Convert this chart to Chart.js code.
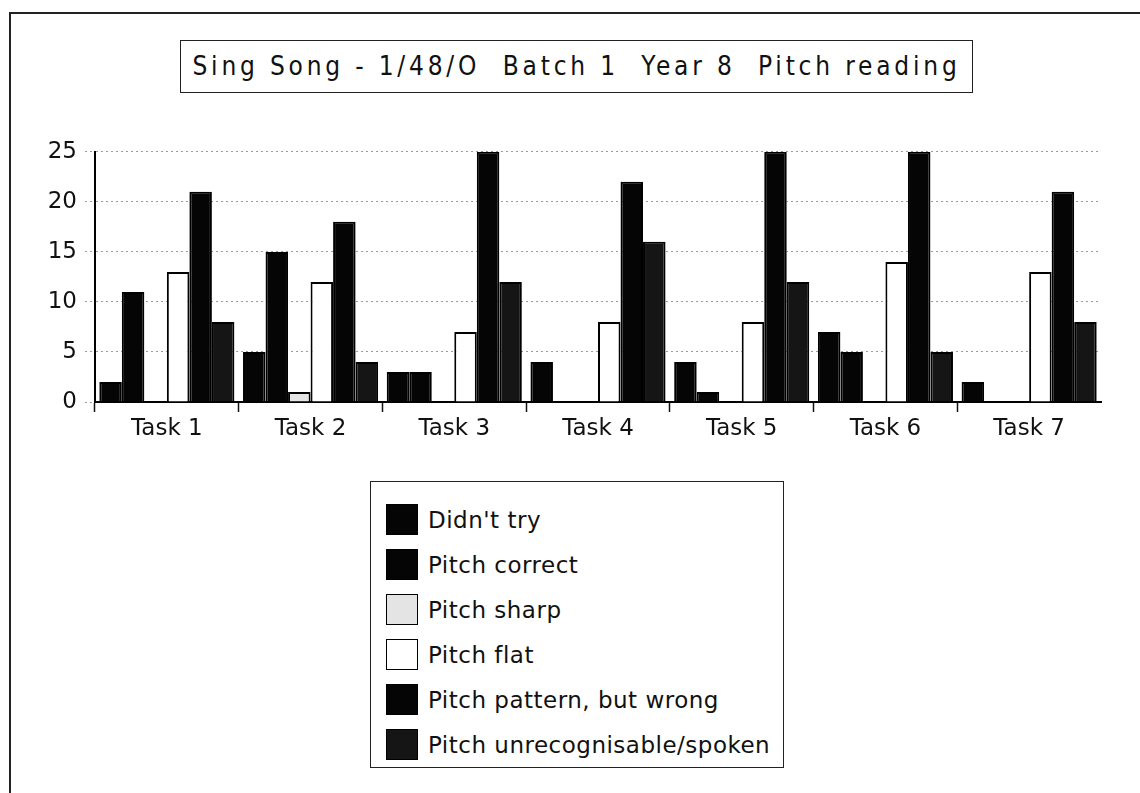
<!DOCTYPE html>
<html>
<head>
<meta charset="utf-8">
<script src="https://cdn.jsdelivr.net/npm/chart.js@4"></script>
<style>
body { margin: 0; background: #fff; }
#page { position: relative; width: 1140px; height: 793px; overflow: hidden; font-family: 'DejaVu Sans', sans-serif; color: #111; }
#frame { position: absolute; left: 9px; top: 12px; width: 1140px; height: 800px; border-left: 2px solid #222; border-top: 2px solid #222; }
#title { position: absolute; left: 180px; top: 40px; width: 793px; height: 53px; border: 1.5px solid #222; box-sizing: border-box;
  font-family: 'DejaVu Sans Condensed', 'Liberation Sans Narrow', 'DejaVu Sans', sans-serif; font-size: 26px; letter-spacing: 3.8px;
  line-height: 51px; text-align: center; white-space: pre; }
#chartBox { position: absolute; left: 0; top: 130px; width: 1140px; height: 320px; }
#legend { position: absolute; left: 370px; top: 481px; width: 414px; height: 287px; border: 1.5px solid #222; box-sizing: border-box; padding-top: 15px; }
.item { height: 45px; display: flex; align-items: center; font-size: 23px; letter-spacing: 0.5px; }
.sw { width: 30px; height: 29px; margin-left: 15px; margin-right: 10px; border: 1.5px solid #000; box-sizing: content-box; }
</style>
</head>
<body>
<div id="page">
  <div id="frame"></div>
  <div id="title">Sing Song - 1/48/O  Batch 1  Year 8  Pitch reading</div>
  <div id="chartBox"><canvas id="pitch-canvas" width="1140" height="320"></canvas></div>
  <div id="legend"></div>
</div>
<script>
// ========== Data
let taskLabels = ['Task 1', 'Task 2', 'Task 3', 'Task 4', 'Task 5', 'Task 6', 'Task 7'];
let yTicks = [0, 5, 10, 15, 20, 25];

let didntTry     = [2, 5, 3, 4, 4, 7, 2];
let pitchCorrect = [11, 15, 3, 0, 1, 5, 0];
let pitchSharp   = [0, 1, 0, 0, 0, 0, 0];
let pitchFlat    = [13, 12, 7, 8, 8, 14, 13];
let patternWrong = [21, 18, 25, 22, 25, 25, 21];
let unrecognised = [8, 4, 12, 16, 12, 5, 8];

// ========== Colors
let blackColor = '#050505';
let sharpColor = '#e4e4e4';
let flatColor = '#ffffff';
let unrecColor = '#151515';

let series = [
    { label: "Didn't try", data: didntTry, color: blackColor },
    { label: 'Pitch correct', data: pitchCorrect, color: blackColor },
    { label: 'Pitch sharp', data: pitchSharp, color: sharpColor },
    { label: 'Pitch flat', data: pitchFlat, color: flatColor },
    { label: 'Pitch pattern, but wrong', data: patternWrong, color: blackColor },
    { label: 'Pitch unrecognisable/spoken', data: unrecognised, color: unrecColor }
];

let tickFont = { family: "'DejaVu Sans', sans-serif", size: 23 };

var pitchCanvas = document.getElementById('pitch-canvas');
var pitchChart = new Chart(pitchCanvas, {
    type: 'bar',
    data: {
        labels: taskLabels,
        datasets: series.map(s => ({
            label: s.label,
            data: s.data,
            backgroundColor: s.color,
            borderColor: '#000',
            borderWidth: 2,
            barPercentage: 1,
            categoryPercentage: 0.94
        }))
    },
    options: {
        responsive: false,
        animation: false,
        layout: { padding: { top: 20, right: 39, left: 0, bottom: 0 } },
        plugins: { legend: { display: false }, tooltip: { enabled: false } },
        scales: {
            x: {
                grid: { drawOnChartArea: false, offset: true, tickLength: 10, tickWidth: 1.5,
                        tickColor: c => c.type === 'tick' ? '#111' : 'transparent' },
                border: { color: '#000', width: 2 },
                ticks: { color: '#111', font: tickFont, padding: 3 },
                afterFit: s => { s.height = 48; }
            },
            y: {
                min: 0,
                max: 25,
                afterBuildTicks: s => { s.ticks = yTicks.map(v => ({ value: v })); },
                grid: { color: '#9a9a9a', lineWidth: 1, tickLength: 10, tickColor: '#9a9a9a', tickBorderDash: [2, 3] },
                border: { color: '#000', width: 2, dash: [2, 3] },
                ticks: { color: '#111', font: tickFont, padding: 8 },
                afterFit: s => { s.width = 95; }
            }
        }
    }
});

// ========== Legend
let legendBox = document.getElementById('legend');
series.forEach(s => {
    let row = document.createElement('div');
    row.className = 'item';
    let sw = document.createElement('div');
    sw.className = 'sw';
    sw.style.background = s.color;
    let txt = document.createElement('span');
    txt.textContent = s.label;
    row.appendChild(sw);
    row.appendChild(txt);
    legendBox.appendChild(row);
});
</script>
</body>
</html>
